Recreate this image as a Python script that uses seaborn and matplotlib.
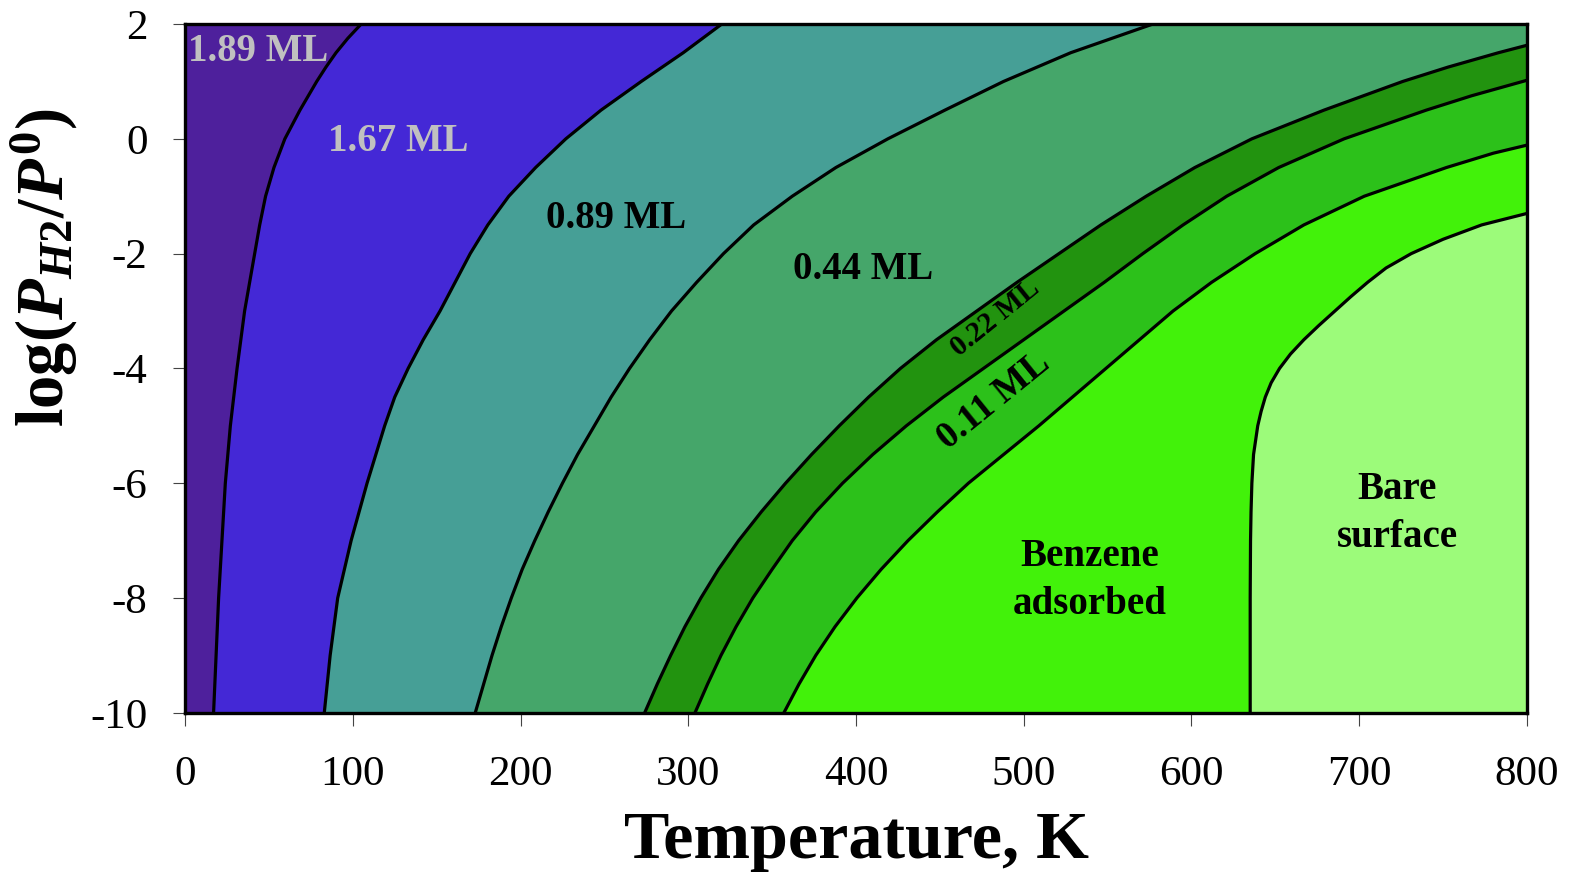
import numpy as np
import seaborn as sns
import matplotlib.pyplot as plt

# === phase boundaries: log(P) -> T (K) ===
b1_logp = [-10, -9, -8, -7, -6, -5, -4, -3, -2.5, -2, -1.5, -1, -0.5, 0, 0.5, 1, 1.25, 1.5, 1.75, 2]
b1_T = [17, 18.5, 20, 22, 24, 27, 31, 35.5, 38.5, 41.5, 44.5, 48, 53, 59.5, 68.5, 78.5, 84, 90, 97, 105]

b2_logp = [-10, -9, -8, -7, -6, -5, -4.5, -4, -3.5, -3, -2.5, -2, -1.5, -1, -0.5, 0, 0.5, 1, 1.5, 2]
b2_T = [83, 86.5, 91, 99, 108.5, 119, 125, 133, 142, 152, 161, 170, 180.5, 193, 209, 227, 248, 272, 297, 320]

b3_logp = [-10, -9.5, -9, -8.5, -8, -7.5, -7, -6.5, -6, -5.5, -5, -4.5, -4, -3.5, -3, -2.5, -2,
           -1.5, -1, -0.5, 0, 0.5, 1, 1.5, 2]
b3_T = [173, 178, 183, 188.5, 194.5, 201, 208.5, 216.5, 225, 234, 244, 254, 265, 277, 290, 305, 321,
        339, 362, 388, 419, 453, 488, 528, 577]

b4_logp = [-10, -9.5, -9, -8.5, -8, -7.5, -7, -6.5, -6, -5.5, -5, -4.5, -4, -3.5, -3, -2.5, -2,
           -1.5, -1, -0.5, 0, 0.5, 1, 1.25, 1.5, 1.63]
b4_T = [274, 281.5, 289.5, 298, 307.5, 318, 330, 343.5, 358, 373.5, 390, 407.5, 426.5, 448, 472, 496, 521,
        546, 573, 602, 636, 679, 726, 753, 783, 800]

b5_logp = [-10, -9.5, -9, -8.5, -8, -7.5, -7, -6.5, -6, -5.5, -5, -4.5, -4, -3.5, -3, -2.5, -2,
           -1.5, -1, -0.5, 0, 0.5, 0.75, 1.02]
b5_T = [304, 311.5, 319.5, 328.5, 338.5, 350, 362, 376, 392, 410, 430, 452, 476, 500, 524, 548, 571,
        595, 621, 652, 691, 740, 767, 800]

b6_logp = [-10, -9.5, -9, -8.5, -8, -7.5, -7, -6.5, -6, -5.5, -5, -4.5, -4, -3.5, -3, -2.5, -2,
           -1.5, -1, -0.5, -0.25, -0.11]
b6_T = [357, 366, 376, 387.5, 400.5, 415, 431, 448.5, 467, 488, 509, 529, 549, 569, 589, 612, 638,
        667, 703, 752, 780, 800]

b7_logp = [-10, -8, -7, -6.5, -6, -5.5, -5, -4.75, -4.5, -4.25, -4, -3.75, -3.5, -3.25, -3, -2.75,
           -2.5, -2.25, -2, -1.75, -1.5, -1.3]
b7_T = [635, 635, 635.2, 635.5, 636, 637, 639.5, 641.5, 644, 647.5, 652.5, 659, 667, 676, 685.5, 695,
        705, 716, 731, 750, 773, 800]

boundaries = [(b1_T, b1_logp), (b2_T, b2_logp), (b3_T, b3_logp), (b4_T, b4_logp),
              (b5_T, b5_logp), (b6_T, b6_logp), (b7_T, b7_logp)]

# region colours, left (high coverage) to right (bare)
region_colors = ["#4e209c", "#4428d6", "#469f96", "#45a66a",
                 "#22930f", "#2cc11a", "#42f20a", "#9cfb7a"]

labels = ["1.89 ML", "1.67 ML", "0.89 ML", "0.44 ML", "0.22 ML", "0.11 ML",
          "Benzene\nadsorbed", "Bare\nsurface"]
label_T = [43.5, 127, 257, 404, 483, 482, 539.5, 722.5]
label_logp = [1.53, -0.05, -1.38, -2.28, -3.13, -4.56, -7.69, -6.53]
label_rot = [0, 0, 0, 0, 39, 39, 0, 0]
label_size = [28, 28, 28, 28, 21, 27, 28, 28]
label_color = ["#c0c0c0", "#c0c0c0", "black", "black", "black", "black", "black", "black"]

T_MIN, T_MAX = 0, 800
LOGP_MIN, LOGP_MAX = -10, 2

sns.set_theme(style="ticks")
plt.rcParams['font.family'] = ['Liberation Serif', 'DejaVu Serif']
plt.rcParams['axes.unicode_minus'] = False
plt.rcParams['text.color'] = 'black'
plt.rcParams['axes.labelcolor'] = 'black'
plt.rcParams['xtick.labelcolor'] = 'black'
plt.rcParams['ytick.labelcolor'] = 'black'
plt.rcParams['mathtext.fontset'] = 'custom'
plt.rcParams['mathtext.rm'] = 'Liberation Serif:bold'
plt.rcParams['mathtext.it'] = 'Liberation Serif:bold:italic'
plt.rcParams['mathtext.bf'] = 'Liberation Serif:bold'

fig, ax = plt.subplots(figsize=(15.75, 8.8), dpi=100)
fig.subplots_adjust(left=0.1175, right=0.9695, bottom=0.19, top=0.9727)

ax.set_facecolor(region_colors[0])

# fill each phase region from its left boundary to the right edge, layered
for (T, lp), col in zip(boundaries, region_colors[1:]):
    T = np.asarray(T, float)
    lp = np.asarray(lp, float)
    xs = np.r_[T, T_MAX, T_MAX]
    ys = np.r_[lp, lp[-1], LOGP_MIN]
    ax.fill(xs, ys, color=col, lw=0, zorder=1)

for T, lp in boundaries:
    sns.lineplot(x=T, y=lp, sort=False, estimator=None, color="black",
                 lw=2.3, ax=ax, zorder=3, solid_joinstyle="round")

for txt, tx, ty, rot, fs, c in zip(labels, label_T, label_logp, label_rot, label_size, label_color):
    ax.text(tx, ty, txt, ha="center", va="center", rotation=rot, rotation_mode="anchor",
            fontsize=fs, fontweight="bold", color=c, linespacing=1.38, zorder=4)

ax.set_xlim(T_MIN, T_MAX)
ax.set_ylim(LOGP_MIN, LOGP_MAX)
ax.set_xticks(np.arange(0, 801, 100))
ax.set_yticks(np.arange(-10, 3, 2))
ax.tick_params(axis="both", direction="out", length=9, width=0.8, color="#444444",
               labelsize=31, labelcolor="black")
ax.tick_params(axis="x", pad=22)
ax.tick_params(axis="y", pad=18)

for sp in ax.spines.values():
    sp.set_linewidth(2.4)
    sp.set_color("black")
    sp.set_zorder(5)

ax.set_xlabel("Temperature, K", fontsize=49, fontweight="bold", labelpad=12, color="black")
ax.set_ylabel(r"log($\mathit{P}_{\mathit{H2}}/\mathit{P}^{\mathit{0}}$)", fontsize=48,
              fontweight="bold", color="black")
ax.yaxis.set_label_coords(-0.078, 0.647)

plt.savefig("out.png", dpi=100)
